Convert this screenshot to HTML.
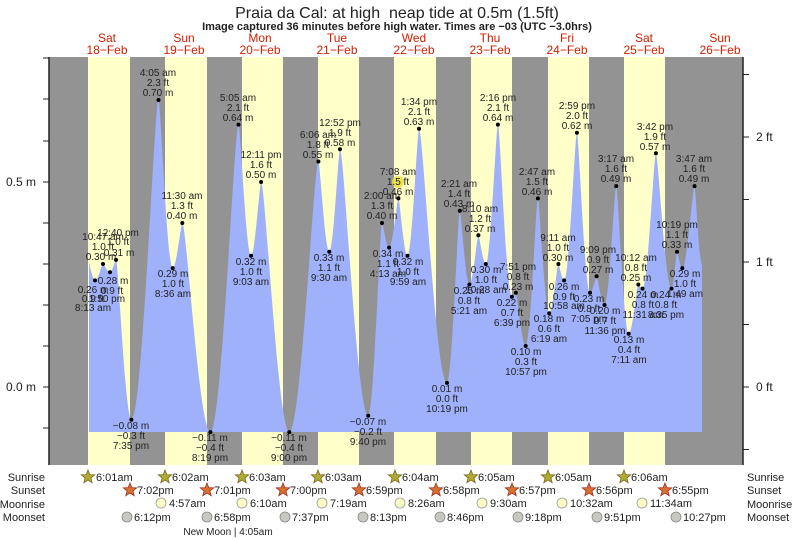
<!DOCTYPE html>
<html><head><meta charset="utf-8"><style>
html,body{margin:0;padding:0;background:#fff;}
svg{display:block;font-family:"Liberation Sans",sans-serif;}
.l{font-size:10px;fill:#222;text-anchor:middle;}
.d{font-size:12px;fill:#d02000;text-anchor:middle;}
.ax{font-size:12px;fill:#222;}
.r{font-size:11px;fill:#222;}
</style></head><body>
<svg id="s" width="793" height="539" viewBox="0 0 793 539" xmlns="http://www.w3.org/2000/svg">
<text x="397" y="18" font-size="16" text-anchor="middle" fill="#222">Praia da Cal: at high &#160;neap tide at 0.5m (1.5ft)</text>
<text x="397" y="30" font-size="11" font-weight="bold" text-anchor="middle" fill="#222">Image captured 36 minutes before high water. Times are −03 (UTC −3.0hrs)</text>
<g class="d">
<text x="107" y="42">Sat</text><text x="107" y="54">18−Feb</text>
<text x="184" y="42">Sun</text><text x="184" y="54">19−Feb</text>
<text x="260" y="42">Mon</text><text x="260" y="54">20−Feb</text>
<text x="337" y="42">Tue</text><text x="337" y="54">21−Feb</text>
<text x="414" y="42">Wed</text><text x="414" y="54">22−Feb</text>
<text x="490" y="42">Thu</text><text x="490" y="54">23−Feb</text>
<text x="567" y="42">Fri</text><text x="567" y="54">24−Feb</text>
<text x="644" y="42">Sat</text><text x="644" y="54">25−Feb</text>
<text x="720" y="42">Sun</text><text x="720" y="54">26−Feb</text>
</g>
<rect x="49" y="57" width="694" height="408" fill="#939393"/>
<g fill="#ffffca">
<rect x="88" y="57" width="42" height="408"/>
<rect x="165" y="57" width="42" height="408"/>
<rect x="242" y="57" width="41" height="408"/>
<rect x="318" y="57" width="41" height="408"/>
<rect x="394" y="57" width="42" height="408"/>
<rect x="471" y="57" width="41" height="408"/>
<rect x="548" y="57" width="41" height="408"/>
<rect x="624" y="57" width="41" height="408"/>
</g>
<path id="tide" fill="#9fb1fb" d=""/>
<!-- axes -->
<g stroke="#222" stroke-width="1.5">
<line x1="49" y1="57" x2="49" y2="465"/>
<line x1="743" y1="57" x2="743" y2="465"/>
</g>
<g stroke="#222" stroke-width="1">
<line x1="43" y1="58" x2="49" y2="58"/><line x1="43" y1="99" x2="49" y2="99"/><line x1="43" y1="141" x2="49" y2="141"/><line x1="43" y1="182" x2="49" y2="182"/><line x1="43" y1="223" x2="49" y2="223"/><line x1="43" y1="264" x2="49" y2="264"/><line x1="43" y1="305" x2="49" y2="305"/><line x1="43" y1="346" x2="49" y2="346"/><line x1="43" y1="387" x2="49" y2="387"/><line x1="43" y1="428" x2="49" y2="428"/>
<line x1="743" y1="74.5" x2="749" y2="74.5"/><line x1="743" y1="137" x2="749" y2="137"/><line x1="743" y1="199.5" x2="749" y2="199.5"/><line x1="743" y1="262" x2="749" y2="262"/><line x1="743" y1="324.5" x2="749" y2="324.5"/><line x1="743" y1="387" x2="749" y2="387"/><line x1="743" y1="449.5" x2="749" y2="449.5"/>
</g>
<text class="ax" x="36" y="186" text-anchor="end">0.5 m</text>
<text class="ax" x="36" y="391" text-anchor="end">0.0 m</text>
<text class="ax" x="756" y="141">2 ft</text>
<text class="ax" x="756" y="266">1 ft</text>
<text class="ax" x="756" y="391">0 ft</text>
<g id="dots" fill="#000"></g>
<circle cx="398" cy="182" r="6" fill="#e8e040" opacity="0.85"/>
<g class="l">
<text x="103" y="240">10:47 am</text><text x="103" y="250">1.0 ft</text><text x="101" y="260">0.30 m</text>
<text x="118" y="236">12:40 pm</text><text x="118" y="245">1.0 ft</text><text x="119" y="256">0.31 m</text>
<text x="113" y="284">0.28 m</text><text x="112" y="294">0.9 ft</text><text x="107" y="302">1:50 pm</text>
<text x="93" y="293">0.26 m</text><text x="93" y="302">0.9 ft</text><text x="93" y="311">8:13 am</text>
<text x="131" y="429">−0.08 m</text><text x="131" y="439">−0.3 ft</text><text x="131" y="449">7:35 pm</text>
<text x="158" y="76">4:05 am</text><text x="158" y="86">2.3 ft</text><text x="158" y="96">0.70 m</text>
<text x="182" y="199">11:30 am</text><text x="182" y="209">1.3 ft</text><text x="182" y="219">0.40 m</text>
<text x="173" y="277">0.29 m</text><text x="173" y="287">1.0 ft</text><text x="173" y="297">8:36 am</text>
<text x="210" y="441">−0.11 m</text><text x="210" y="451">−0.4 ft</text><text x="210" y="461">8:19 pm</text>
<text x="238" y="101">5:05 am</text><text x="238" y="111">2.1 ft</text><text x="238" y="121">0.64 m</text>
<text x="261" y="158">12:11 pm</text><text x="261" y="168">1.6 ft</text><text x="261" y="178">0.50 m</text>
<text x="251" y="265">0.32 m</text><text x="251" y="275">1.0 ft</text><text x="251" y="285">9:03 am</text>
<text x="289" y="441">−0.11 m</text><text x="289" y="451">−0.4 ft</text><text x="289" y="461">9:00 pm</text>
<text x="318" y="138">6:06 am</text><text x="318" y="148">1.8 ft</text><text x="318" y="158">0.55 m</text>
<text x="340" y="126">12:52 pm</text><text x="340" y="136">1.9 ft</text><text x="340" y="146">0.58 m</text>
<text x="329" y="261">0.33 m</text><text x="329" y="271">1.1 ft</text><text x="329" y="281">9:30 am</text>
<text x="368" y="425">−0.07 m</text><text x="368" y="435">−0.2 ft</text><text x="368" y="445">9:40 pm</text>
<text x="382" y="199">2:00 am</text><text x="382" y="209">1.3 ft</text><text x="382" y="219">0.40 m</text>
<text x="398" y="175">7:08 am</text><text x="398" y="185">1.5 ft</text><text x="398" y="195">0.46 m</text>
<text x="388" y="257">0.34 m</text><text x="388" y="267">1.1 ft</text><text x="388" y="277">4:13 am</text>
<text x="408" y="265">0.32 m</text><text x="408" y="275">1.0 ft</text><text x="408" y="285">9:59 am</text>
<text x="419" y="105">1:34 pm</text><text x="419" y="115">2.1 ft</text><text x="419" y="125">0.63 m</text>
<text x="447" y="392">0.01 m</text><text x="447" y="402">0.0 ft</text><text x="447" y="412">10:19 pm</text>
<text x="459" y="187">2:21 am</text><text x="459" y="197">1.4 ft</text><text x="459" y="207">0.43 m</text>
<text x="480" y="212">8:10 am</text><text x="480" y="222">1.2 ft</text><text x="480" y="232">0.37 m</text>
<text x="486" y="273">0.30 m</text><text x="486" y="283">1.0 ft</text><text x="486" y="293">10:28 am</text>
<text x="469" y="294">0.25 m</text><text x="469" y="304">0.8 ft</text><text x="469" y="314">5:21 am</text>
<text x="498" y="101">2:16 pm</text><text x="498" y="111">2.1 ft</text><text x="498" y="121">0.64 m</text>
<text x="518" y="270">7:51 pm</text><text x="518" y="280">0.8 ft</text><text x="518" y="290">0.23 m</text>
<text x="512" y="306">0.22 m</text><text x="512" y="316">0.7 ft</text><text x="512" y="326">6:39 pm</text>
<text x="526" y="355">0.10 m</text><text x="526" y="365">0.3 ft</text><text x="526" y="375">10:57 pm</text>
<text x="537" y="175">2:47 am</text><text x="537" y="185">1.5 ft</text><text x="537" y="195">0.46 m</text>
<text x="558" y="241">9:11 am</text><text x="558" y="251">1.0 ft</text><text x="558" y="261">0.30 m</text>
<text x="549" y="322">0.18 m</text><text x="549" y="332">0.6 ft</text><text x="549" y="342">6:19 am</text>
<text x="564" y="290">0.26 m</text><text x="564" y="300">0.9 ft</text><text x="564" y="309">10:58 am</text>
<text x="577" y="109">2:59 pm</text><text x="577" y="119">2.0 ft</text><text x="577" y="129">0.62 m</text>
<text x="598" y="253">9:09 pm</text><text x="598" y="263">0.9 ft</text><text x="598" y="273">0.27 m</text>
<text x="589" y="302">0.23 m</text><text x="589" y="312">0.8 ft</text><text x="589" y="322">7:05 pm</text>
<text x="605" y="314">0.20 m</text><text x="605" y="324">0.7 ft</text><text x="605" y="334">11:36 pm</text>
<text x="616" y="162">3:17 am</text><text x="616" y="172">1.6 ft</text><text x="616" y="182">0.49 m</text>
<text x="636" y="261">10:12 am</text><text x="636" y="271">0.8 ft</text><text x="636" y="281">0.25 m</text>
<text x="643" y="298">0.24 m</text><text x="643" y="308">0.8 ft</text><text x="643" y="318">11:31 am</text>
<text x="629" y="343">0.13 m</text><text x="629" y="353">0.4 ft</text><text x="629" y="363">7:11 am</text>
<text x="655" y="130">3:42 pm</text><text x="655" y="140">1.9 ft</text><text x="655" y="150">0.57 m</text>
<text x="666" y="298">0.24 m</text><text x="666" y="308">0.8 ft</text><text x="666" y="318">8:35 pm</text>
<text x="677" y="228">10:19 pm</text><text x="677" y="238">1.1 ft</text><text x="677" y="248">0.33 m</text>
<text x="685" y="277">0.29 m</text><text x="685" y="287">1.0 ft</text><text x="685" y="297">1:49 am</text>
<text x="694" y="162">3:47 am</text><text x="694" y="172">1.6 ft</text><text x="694" y="182">0.49 m</text>
</g>
<g class="r" text-anchor="end">
<text x="45" y="481">Sunrise</text><text x="45" y="494">Sunset</text><text x="45" y="508">Moonrise</text><text x="45" y="521">Moonset</text>
</g>
<g class="r">
<text x="747" y="481">Sunrise</text><text x="747" y="494">Sunset</text><text x="747" y="508">Moonrise</text><text x="747" y="521">Moonset</text>
</g>
<defs>
<polygon id="st" points="0,-7 1.8,-2.4 6.7,-2.2 2.9,0.9 4.2,5.7 0,3 -4.2,5.7 -2.9,0.9 -6.7,-2.2 -1.8,-2.4"/>
</defs>
<g fill="#b0aa30" stroke="#7a6a20" stroke-width="0.8">
<use href="#st" x="88" y="477"/><use href="#st" x="165" y="477"/><use href="#st" x="242" y="477"/><use href="#st" x="318" y="477"/><use href="#st" x="395" y="477"/><use href="#st" x="471" y="477"/><use href="#st" x="548" y="477"/><use href="#st" x="624" y="477"/>
</g>
<g fill="#d87030" stroke="#a03020" stroke-width="0.8">
<use href="#st" x="130" y="490"/><use href="#st" x="207" y="490"/><use href="#st" x="283" y="490"/><use href="#st" x="359" y="490"/><use href="#st" x="436" y="490"/><use href="#st" x="512" y="490"/><use href="#st" x="589" y="490"/><use href="#st" x="665" y="490"/>
</g>
<g class="r">
<text x="96" y="481">6:01am</text><text x="172" y="481">6:02am</text><text x="249" y="481">6:03am</text><text x="325" y="481">6:03am</text><text x="402" y="481">6:04am</text><text x="478" y="481">6:05am</text><text x="555" y="481">6:05am</text><text x="631" y="481">6:06am</text>
<text x="137" y="494">7:02pm</text><text x="214" y="494">7:01pm</text><text x="290" y="494">7:00pm</text><text x="366" y="494">6:59pm</text><text x="443" y="494">6:58pm</text><text x="519" y="494">6:57pm</text><text x="596" y="494">6:56pm</text><text x="672" y="494">6:55pm</text>
</g>
<g fill="#ffffc8" stroke="#999" stroke-width="0.8">
<circle cx="161" cy="503" r="5"/><circle cx="242" cy="503" r="5"/><circle cx="322" cy="503" r="5"/><circle cx="400" cy="503" r="5"/><circle cx="482" cy="503" r="5"/><circle cx="562" cy="503" r="5"/><circle cx="642" cy="503" r="5"/>
</g>
<g class="r">
<text x="169" y="507">4:57am</text><text x="250" y="507">6:10am</text><text x="330" y="507">7:19am</text><text x="408" y="507">8:26am</text><text x="490" y="507">9:30am</text><text x="570" y="507">10:32am</text><text x="650" y="507">11:34am</text>
</g>
<g fill="#c8c8c0" stroke="#888" stroke-width="0.8">
<circle cx="127" cy="517" r="5"/><circle cx="207" cy="517" r="5"/><circle cx="285" cy="517" r="5"/><circle cx="363" cy="517" r="5"/><circle cx="440" cy="517" r="5"/><circle cx="518" cy="517" r="5"/><circle cx="597" cy="517" r="5"/><circle cx="676" cy="517" r="5"/>
</g>
<g class="r">
<text x="134" y="521">6:12pm</text><text x="214" y="521">6:58pm</text><text x="292" y="521">7:37pm</text><text x="370" y="521">8:13pm</text><text x="447" y="521">8:46pm</text><text x="525" y="521">9:18pm</text><text x="604" y="521">9:51pm</text><text x="683" y="521">10:27pm</text>
</g>
<text x="228" y="535" font-size="10" text-anchor="middle" fill="#222">New Moon | 4:05am</text>
</svg>
<script>
(function(){
var P=[[89,262],[95,280.4],[103,264],[110,272.2],[116,259.9],[131.4,419.8],[158.5,100],[172.7,268.1],[182.3,223],[210.4,432.1],[238.5,124.6],[251.1,255.8],[261.1,182],[289.3,432.1],[318.4,161.5],[329.3,251.7],[340,149.2],[368.2,415.7],[382,223],[389.1,247.6],[398.4,198.4],[407.5,255.8],[419,128.7],[447,382.9],[459.8,210.7],[469.4,284.5],[478.4,235.3],[485.8,264],[497.9,124.6],[511.9,296.8],[515.8,292.7],[525.7,346],[537.9,198.4],[549.2,313.2],[558.4,264],[564.1,280.4],[576.9,132.8],[590,292.7],[596.6,276.3],[604.5,305],[616.2,186.1],[628.7,333.7],[638.3,284.5],[642.5,288.6],[655.9,153.3],[671.5,288.6],[677,251.7],[682.3,268.1],[694.5,186.1],[702,264]];
var d="M89,432 L"+P[0][0]+","+P[0][1];
for(var i=1;i<P.length;i++){
 var a=P[i-1],b=P[i],dx=b[0]-a[0];
 var ka=(a[1]>b[1])?0.4:0.15, kb=(b[1]>a[1])?0.4:0.15;
 if(i==1){ka=0;}
 d+=" C"+(a[0]+dx*ka)+","+a[1]+" "+(b[0]-dx*kb)+","+b[1]+" "+b[0]+","+b[1];
}
d+=" L702,432 Z";
document.getElementById("tide").setAttribute("d",d);
var g=document.getElementById("dots"),ns="http://www.w3.org/2000/svg";
for(var i=1;i<P.length-1;i++){var c=document.createElementNS(ns,"circle");c.setAttribute("cx",P[i][0]);c.setAttribute("cy",P[i][1]);c.setAttribute("r",2);g.appendChild(c);}
})();
</script>
</body></html>
